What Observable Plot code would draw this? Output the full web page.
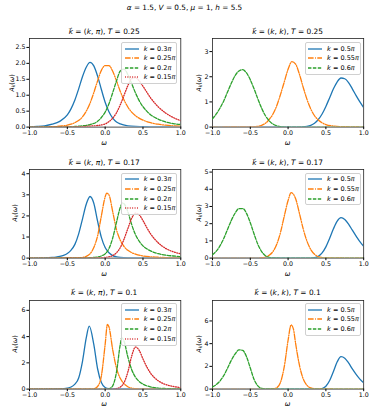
<!DOCTYPE html>
<html><head><meta charset="utf-8">
<script src="https://cdn.jsdelivr.net/npm/d3@7"></script>
<script src="https://cdn.jsdelivr.net/npm/@observablehq/plot@0.6"></script>
<style>
body{margin:0;background:#fff;}
#fig{position:relative;width:374px;height:413px;background:#fff;font-family:"DejaVu Sans",sans-serif;color:#000;overflow:hidden;}
.t{position:absolute;white-space:nowrap;line-height:1;}
.leg{position:absolute;box-sizing:border-box;width:56px;border:0.7px solid #d0d0d0;border-radius:2px;background:rgba(255,255,255,0.85);padding:1.1px 0;}
.row{height:9.6px;display:flex;align-items:center;font-size:6.5px;}
.row svg{margin-left:2.3px;margin-right:5px;flex:none;}
sub{font-size:70%;vertical-align:-0.25em;line-height:0;}
</style></head>
<body><div id="fig"></div>
<script>
// ---- data: [omega, A_k(omega)] ----
// (k, pi), T = 0.25
const kpiT025_k030 = [[-1,0.01],[-0.9,0.02],[-0.8,0.04],[-0.7,0.09],[-0.6,0.18],[-0.5,0.38],[-0.45,0.58],[-0.4,0.85],[-0.35,1.2],[-0.3,1.58],[-0.25,1.88],[-0.2,2.03],[-0.15,1.92],[-0.1,1.6],[-0.05,1.18],[0,0.78],[0.05,0.48],[0.1,0.28],[0.15,0.16],[0.2,0.1],[0.3,0.04],[0.4,0.02],[0.6,0.01],[1,0]];
const kpiT025_k025 = [[-1,0],[-0.7,0.01],[-0.6,0.03],[-0.5,0.06],[-0.4,0.14],[-0.3,0.32],[-0.25,0.5],[-0.2,0.75],[-0.15,1.08],[-0.1,1.45],[-0.05,1.78],[0,1.93],[0.05,1.93],[0.1,1.75],[0.15,1.45],[0.2,1.12],[0.25,0.85],[0.3,0.63],[0.35,0.47],[0.4,0.36],[0.5,0.22],[0.6,0.14],[0.7,0.09],[0.8,0.06],[0.9,0.04],[1,0.03]];
const kpiT025_k020 = [[-1,0],[-0.5,0.01],[-0.4,0.02],[-0.3,0.04],[-0.2,0.08],[-0.1,0.18],[-0.05,0.3],[0,0.47],[0.05,0.73],[0.1,1.08],[0.15,1.45],[0.2,1.76],[0.25,1.82],[0.3,1.65],[0.35,1.37],[0.4,1.08],[0.45,0.83],[0.5,0.64],[0.55,0.5],[0.6,0.39],[0.7,0.25],[0.8,0.16],[0.9,0.11],[1,0.08]];
const kpiT025_k015 = [[-1,0],[-0.4,0.01],[-0.2,0.03],[-0.1,0.05],[0,0.1],[0.05,0.17],[0.1,0.28],[0.15,0.45],[0.2,0.7],[0.25,1.0],[0.3,1.3],[0.35,1.52],[0.4,1.55],[0.45,1.45],[0.5,1.28],[0.55,1.1],[0.6,0.92],[0.65,0.77],[0.7,0.64],[0.8,0.44],[0.9,0.3],[1,0.2]];
// (k, k), T = 0.25
const kkT025_k050 = [[-1,0],[0.1,0],[0.2,0.01],[0.25,0.03],[0.3,0.07],[0.35,0.15],[0.4,0.3],[0.45,0.52],[0.5,0.82],[0.55,1.17],[0.6,1.52],[0.65,1.8],[0.7,1.95],[0.75,1.92],[0.8,1.77],[0.85,1.52],[0.9,1.25],[0.95,1.0],[1,0.77]];
const kkT025_k055 = [[-1,0],[-0.5,0.01],[-0.4,0.03],[-0.35,0.07],[-0.3,0.15],[-0.25,0.3],[-0.2,0.52],[-0.15,0.85],[-0.1,1.3],[-0.05,1.8],[0,2.3],[0.05,2.6],[0.1,2.5],[0.15,2.1],[0.2,1.58],[0.25,1.1],[0.3,0.72],[0.35,0.45],[0.4,0.28],[0.45,0.17],[0.5,0.1],[0.6,0.04],[0.7,0.02],[1,0]];
const kkT025_k060 = [[-1,0.33],[-0.95,0.52],[-0.9,0.76],[-0.85,1.05],[-0.8,1.4],[-0.75,1.75],[-0.7,2.05],[-0.65,2.23],[-0.6,2.28],[-0.55,2.15],[-0.5,1.88],[-0.45,1.52],[-0.4,1.12],[-0.35,0.75],[-0.3,0.45],[-0.25,0.25],[-0.2,0.12],[-0.15,0.05],[-0.1,0.02],[0,0],[1,0]];
// (k, pi), T = 0.17
const kpiT017_k030 = [[-1,0],[-0.8,0.01],[-0.7,0.03],[-0.65,0.05],[-0.6,0.08],[-0.55,0.13],[-0.5,0.22],[-0.45,0.38],[-0.4,0.65],[-0.35,1.15],[-0.3,1.85],[-0.25,2.55],[-0.2,2.92],[-0.15,2.6],[-0.1,1.75],[-0.05,0.98],[0,0.5],[0.05,0.25],[0.1,0.12],[0.15,0.06],[0.2,0.03],[0.3,0.01],[1,0]];
const kpiT017_k025 = [[-1,0],[-0.4,0.01],[-0.3,0.03],[-0.25,0.08],[-0.2,0.2],[-0.15,0.5],[-0.1,1.05],[-0.05,2.0],[0,2.9],[0.02,3.08],[0.05,3.0],[0.1,2.2],[0.15,1.35],[0.2,0.85],[0.25,0.55],[0.3,0.37],[0.35,0.26],[0.4,0.19],[0.5,0.1],[0.6,0.06],[0.7,0.04],[0.8,0.02],[1,0.01]];
const kpiT017_k020 = [[-1,0],[-0.3,0.01],[-0.2,0.02],[-0.1,0.05],[-0.05,0.1],[0,0.2],[0.05,0.45],[0.1,0.95],[0.15,1.7],[0.2,2.4],[0.23,2.62],[0.25,2.58],[0.3,2.2],[0.35,1.6],[0.4,1.12],[0.45,0.8],[0.5,0.58],[0.55,0.44],[0.6,0.34],[0.7,0.21],[0.8,0.14],[0.9,0.1],[1,0.07]];
const kpiT017_k015 = [[-1,0],[-0.2,0.01],[0,0.03],[0.05,0.06],[0.1,0.12],[0.15,0.25],[0.2,0.5],[0.25,0.9],[0.3,1.4],[0.35,1.88],[0.4,2.13],[0.45,2.05],[0.5,1.78],[0.55,1.45],[0.6,1.15],[0.65,0.92],[0.7,0.73],[0.8,0.46],[0.9,0.3],[1,0.2]];
// (k, k), T = 0.17
const kkT017_k050 = [[-1,0],[0.3,0],[0.35,0.02],[0.4,0.1],[0.45,0.3],[0.5,0.65],[0.55,1.15],[0.6,1.7],[0.65,2.15],[0.7,2.35],[0.75,2.25],[0.8,1.98],[0.85,1.62],[0.9,1.28],[0.95,0.95],[1,0.68]];
const kkT017_k055 = [[-1,0],[-0.4,0],[-0.35,0.02],[-0.3,0.06],[-0.25,0.16],[-0.2,0.38],[-0.15,0.8],[-0.1,1.5],[-0.05,2.45],[0,3.35],[0.04,3.8],[0.1,3.45],[0.15,2.6],[0.2,1.7],[0.25,0.98],[0.3,0.5],[0.35,0.22],[0.4,0.08],[0.45,0.03],[0.5,0.01],[1,0]];
const kkT017_k060 = [[-1,0.2],[-0.95,0.4],[-0.9,0.72],[-0.85,1.15],[-0.8,1.68],[-0.75,2.2],[-0.7,2.62],[-0.65,2.88],[-0.6,2.88],[-0.55,2.6],[-0.5,2.05],[-0.45,1.4],[-0.4,0.8],[-0.35,0.38],[-0.3,0.14],[-0.25,0.04],[-0.2,0.01],[0,0],[1,0]];
// (k, pi), T = 0.1
const kpiT010_k030 = [[-1,0],[-0.6,0.01],[-0.55,0.03],[-0.5,0.07],[-0.45,0.16],[-0.4,0.38],[-0.35,0.85],[-0.3,2.1],[-0.25,3.9],[-0.21,4.8],[-0.15,3.4],[-0.1,1.55],[-0.05,0.5],[0,0.12],[0.05,0.03],[0.1,0.01],[1,0]];
const kpiT010_k025 = [[-1,0],[-0.2,0],[-0.15,0.03],[-0.1,0.2],[-0.05,1.0],[0,3.4],[0.03,4.92],[0.05,4.75],[0.1,3.0],[0.15,1.6],[0.2,0.82],[0.25,0.4],[0.3,0.18],[0.35,0.07],[0.4,0.03],[0.5,0.01],[1,0]];
const kpiT010_k020 = [[-1,0],[0,0],[0.05,0.02],[0.1,0.25],[0.15,1.3],[0.2,3.4],[0.22,3.9],[0.25,3.65],[0.3,2.45],[0.35,1.5],[0.4,0.92],[0.45,0.58],[0.5,0.38],[0.55,0.25],[0.6,0.17],[0.7,0.08],[0.8,0.04],[0.9,0.02],[1,0.01]];
const kpiT010_k015 = [[-1,0],[0.1,0],[0.15,0.04],[0.2,0.15],[0.25,0.5],[0.3,1.3],[0.35,2.5],[0.4,3.2],[0.45,2.95],[0.5,2.3],[0.55,1.7],[0.6,1.22],[0.65,0.88],[0.7,0.64],[0.75,0.47],[0.8,0.35],[0.9,0.2],[1,0.12]];
// (k, k), T = 0.1
const kkT010_k050 = [[-1,0],[0.4,0],[0.45,0.05],[0.5,0.25],[0.55,0.75],[0.6,1.55],[0.65,2.4],[0.7,2.85],[0.75,2.72],[0.8,2.3],[0.85,1.78],[0.9,1.3],[0.95,0.88],[1,0.55]];
const kkT010_k055 = [[-1,0],[-0.25,0],[-0.2,0.02],[-0.15,0.12],[-0.1,0.6],[-0.05,2.0],[0,4.3],[0.04,5.65],[0.07,5.3],[0.1,4.0],[0.15,2.1],[0.2,0.9],[0.25,0.33],[0.3,0.1],[0.35,0.03],[0.4,0.01],[1,0]];
const kkT010_k060 = [[-1,0.2],[-0.95,0.4],[-0.9,0.72],[-0.85,1.2],[-0.8,1.85],[-0.75,2.55],[-0.7,3.1],[-0.65,3.45],[-0.6,3.4],[-0.55,2.85],[-0.5,1.85],[-0.45,0.85],[-0.4,0.28],[-0.35,0.06],[-0.3,0.01],[0,0],[1,0]];

// ---- tick labels / domains ----
const xTicks = [-1, -0.5, 0, 0.5, 1];
const yTicksT025pi = [0, 0.5, 1, 1.5, 2, 2.5];
const yTicksT025kk = [0, 1, 2, 3];
const yTicksT017pi = [0, 1, 2, 3, 4];
const yTicksT017kk = [0, 1, 2, 3, 4, 5];
const yTicksT010pi = [0, 2, 4, 6];
const yTicksT010kk = [0, 2, 4, 6];
const yMaxes = [2.78, 3.52, 4.2, 5.15, 6.75, 7.8];
const temps = ["0.25", "0.17", "0.1"];
const kLabelsPi = ["0.3", "0.25", "0.2", "0.15"];
const kLabelsKK = ["0.5", "0.55", "0.6"];

// ---- styles ----
const colors = ["#1f77b4", "#ff7f0e", "#2ca02c", "#d62728"];
const dashes = ["none", "5.6,1.4,0.9,1.4", "3.4,1.5", "0.9,1.5"];

const fig = document.getElementById("fig");
const colX = [[28.5, 179.8], [212, 363.2]];
const rowY = [38.2, 169, 299.5];
const PH = 88.6;
const ML = 30, MR = 6, MT = 4, MB = 14;

const panels = [
  {r:0,c:0,ticks:yTicksT025pi,fmt:".1f",series:[kpiT025_k030,kpiT025_k025,kpiT025_k020,kpiT025_k015],labels:kLabelsPi,kind:"pi",ylabX:12.3},
  {r:0,c:1,ticks:yTicksT025kk,fmt:"d",series:[kkT025_k050,kkT025_k055,kkT025_k060],labels:kLabelsKK,kind:"kk",ylabX:199.3},
  {r:1,c:0,ticks:yTicksT017pi,fmt:"d",series:[kpiT017_k030,kpiT017_k025,kpiT017_k020,kpiT017_k015],labels:kLabelsPi,kind:"pi",ylabX:15},
  {r:1,c:1,ticks:yTicksT017kk,fmt:"d",series:[kkT017_k050,kkT017_k055,kkT017_k060],labels:kLabelsKK,kind:"kk",ylabX:199.3},
  {r:2,c:0,ticks:yTicksT010pi,fmt:"d",series:[kpiT010_k030,kpiT010_k025,kpiT010_k020,kpiT010_k015],labels:kLabelsPi,kind:"pi",ylabX:15},
  {r:2,c:1,ticks:yTicksT010kk,fmt:"d",series:[kkT010_k050,kkT010_k055,kkT010_k060],labels:kLabelsKK,kind:"kk",ylabX:199.3}
];

function addText(html, x, y, size, tx, extra) {
  const d = document.createElement("div");
  d.className = "t";
  d.innerHTML = html;
  d.style.left = x + "px";
  d.style.top = y + "px";
  d.style.fontSize = size + "px";
  d.style.transform = tx;
  if (extra) Object.assign(d.style, extra);
  fig.appendChild(d);
  return d;
}

// suptitle
addText("<i>α</i> = 1.5, <i>V</i> = 0.5, <i>μ</i> = 1, <i>h</i> = 5.5", 184.5, 7.6, 7.3, "translate(-50%,-50%)");

panels.forEach((p, i) => {
  const [x0, x1] = colX[p.c];
  const y0 = rowY[p.r];
  const pw = x1 - x0;
  const marks = [
    Plot.frame({stroke: "#222", strokeWidth: 0.8}),
    Plot.axisX({ticks: xTicks, tickFormat: d3.format(".1f"), tickSize: 2.6, tickPadding: 1.2, label: null, fontSize: 6.3}),
    Plot.axisY({ticks: p.ticks, tickFormat: d3.format(p.fmt), tickSize: 2.6, tickPadding: 1.4, label: null, fontSize: 6.3}),
  ];
  p.series.forEach((s, j) => {
    marks.push(Plot.line(s, {x: d => d[0], y: d => d[1], stroke: colors[j], strokeWidth: 1.3,
      strokeDasharray: dashes[j], curve: "monotone-x", clip: true}));
  });
  const svg = Plot.plot({
    width: pw + ML + MR, height: PH + MT + MB,
    marginLeft: ML, marginRight: MR, marginTop: MT, marginBottom: MB,
    x: {domain: [-1, 1]},
    y: {domain: [0, yMaxes[i]]},
    style: {fontFamily: "DejaVu Sans", fontSize: "6.3px", color: "#000", background: "transparent"},
    marks
  });
  svg.style.position = "absolute";
  svg.style.left = (x0 - ML) + "px";
  svg.style.top = (y0 - MT) + "px";
  fig.appendChild(svg);

  // panel title
  const vec = p.kind === "pi" ? "(<i>k</i>, <i>π</i>)" : "(<i>k</i>, <i>k</i>)";
  addText("<i>k⃗</i> = " + vec + ", <i>T</i> = " + temps[p.r], (x0 + x1) / 2, y0 - 6.4, 7.4, "translate(-50%,-50%)");
  // x label
  addText("<i>ω</i>", (x0 + x1) / 2, y0 + PH + 16.2, 6.7, "translate(-50%,-50%)");
  // y label
  addText("<i>A<sub>k</sub></i>(<i>ω</i>)", p.ylabX, y0 + PH / 2, 6.5, "translate(-50%,-50%) rotate(-90deg)");

  // legend
  const leg = document.createElement("div");
  leg.className = "leg";
  leg.style.left = (x1 - 2.4 - 56) + "px";
  leg.style.top = (y0 + 3.5) + "px";
  p.labels.forEach((lab, j) => {
    const row = document.createElement("div");
    row.className = "row";
    const dash = dashes[j] === "none" ? "" : ` stroke-dasharray="${dashes[j]}"`;
    row.innerHTML = `<svg width="14" height="4"><line x1="0" y1="2" x2="14" y2="2" stroke="${colors[j]}" stroke-width="1.3"${dash}/></svg><span><i>k</i> = ${lab}<i>π</i></span>`;
    leg.appendChild(row);
  });
  fig.appendChild(leg);
});
</script></body></html>
